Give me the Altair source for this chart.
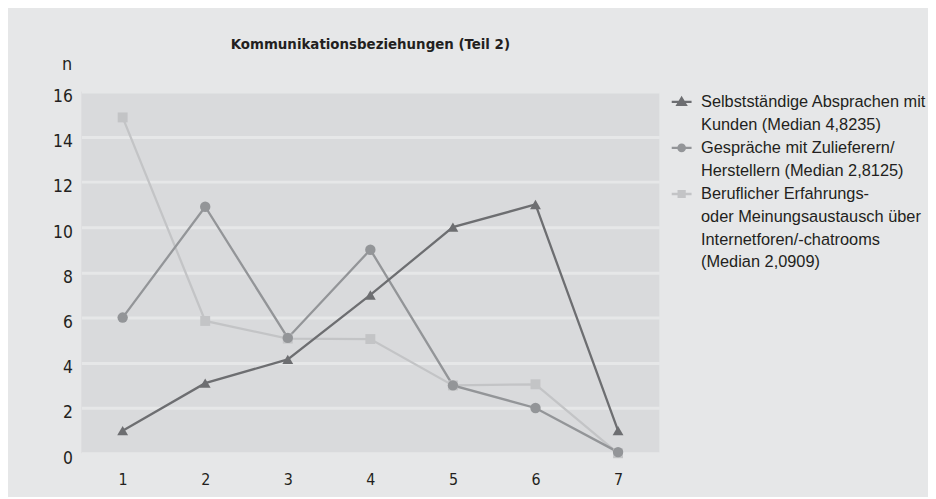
import altair as alt
import pandas as pd

x_vals = [1, 2, 3, 4, 5, 6, 7]
series_names = [
    "Selbstständige Absprachen mit|Kunden (Median 4,8235)",
    "Gespräche mit Zulieferern/|Herstellern (Median 2,8125)",
    "Beruflicher Erfahrungs-|oder Meinungsaustausch über|Internetforen/-chatrooms|(Median 2,0909)",
]
vals_kunden = [1, 3.1, 4.15, 7, 10, 11, 1]
vals_zulieferer = [6, 10.9, 5.1, 9, 3, 2, 0.05]
vals_internet = [14.85, 5.85, 5.07, 5.05, 3.0, 3.05, 0]
series_colors = ["#6d6e71", "#939598", "#c3c4c6"]
point_shapes = ["triangle-up", "circle", "square"]
legend_paths = [
    "M-1,-0.5H1M0,-0.88L0.42,-0.18H-0.42Z",
    "M-1,-0.5H1M0.32,-0.5A0.32,0.32,0,1,1,-0.32,-0.5A0.32,0.32,0,1,1,0.32,-0.5Z",
    "M-1,-0.5H1M-0.3,-0.8H0.3V-0.2H-0.3Z",
]
point_sizes = [120, 110, 100]

all_vals = [vals_kunden, vals_zulieferer, vals_internet]
rows = []
for name, vals in zip(series_names, all_vals):
    for xv, yv in zip(x_vals, vals):
        rows.append({"x": xv, "n": yv, "Serie": name})
df = pd.DataFrame(rows)

COND = "Liberation Sans Narrow, DejaVu Sans Condensed, sans-serif"
REG = "Liberation Sans, sans-serif"
TXT = "#231f20"

xenc = alt.X("x:Q", scale=alt.Scale(domain=[0.5, 7.5], nice=False, zero=False),
             axis=alt.Axis(values=x_vals, format="d", title=None, grid=False, domain=False,
                           ticks=False, labelFont=COND, labelFontSize=16, labelColor=TXT,
                           labelPadding=19))
yenc = alt.Y("n:Q", scale=alt.Scale(domain=[0, 16], nice=False),
             axis=alt.Axis(values=list(range(0, 17, 2)), title="n", titleAngle=0,
                           titleX=-15, titleY=-27, titleAlign="center", titleBaseline="middle",
                           titleFont=COND, titleFontSize=18, titleFontWeight="normal",
                           titleColor=TXT, grid=True, gridColor="#e6e7e8", gridWidth=3,
                           domain=False, ticks=False, labelFont=COND, labelFontSize=17.5,
                           labelColor=TXT, labelPadding=9, labelOffset=5))

base = alt.Chart(df)
layers = []
order = [2, 1, 0]
for i in order:
    sub = base.transform_filter(alt.datum.Serie == series_names[i])
    layers.append(sub.mark_line(color=series_colors[i], strokeWidth=2.3).encode(x=xenc, y=yenc))
for i in order:
    sub = base.transform_filter(alt.datum.Serie == series_names[i])
    layers.append(sub.mark_point(shape=point_shapes[i], filled=True, opacity=1,
                                 size=point_sizes[i], color=series_colors[i]).encode(x=xenc, y=yenc))

leg = alt.Legend(title=None, orient="none", legendX=594, legendY=4,
                 labelExpr="split(datum.label, '|')", symbolSize=400, symbolStrokeWidth=2.3,
                 symbolOpacity=1, labelFont=REG, labelFontSize=16.5, labelColor=TXT,
                 labelOffset=8, labelLimit=320, rowPadding=6.5, padding=0,
                 labelBaseline="alphabetic")
legend_layer = base.mark_point(filled=True, opacity=0).encode(
    x=xenc, y=yenc,
    fill=alt.Fill("Serie:N", scale=alt.Scale(domain=series_names, range=series_colors), legend=leg),
    stroke=alt.Stroke("Serie:N", scale=alt.Scale(domain=series_names, range=series_colors), legend=leg),
    shape=alt.Shape("Serie:N", scale=alt.Scale(domain=series_names, range=legend_paths), legend=leg),
)
layers.append(legend_layer)

chart = alt.layer(*layers).properties(
    width=583, height=365,
    title=alt.Title("Kommunikationsbeziehungen (Teil 2)", font=COND, fontSize=15,
                    fontWeight="bold", color=TXT, anchor="middle", frame="group", offset=4),
    padding={"left": 74, "top": 82, "right": 271, "bottom": 42},
    autosize=alt.AutoSizeParams(type="none"),
).configure(
    background="#e6e7e8",
    style={"guide-label": {"lineHeight": 23}},
).configure_view(fill="#d9dadc", stroke=None)

chart.save("out.html", embed_options={"renderer": "svg", "actions": False})
